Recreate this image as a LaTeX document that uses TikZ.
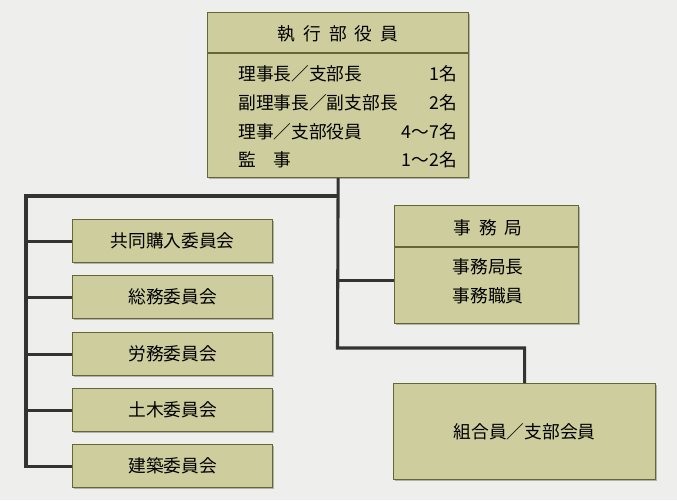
\documentclass[tikz,border=0pt]{standalone}
\usepackage{fontspec}
\setmainfont{Noto Sans CJK JP}
\usetikzlibrary{positioning,calc,shadows}
\definecolor{bggray}{RGB}{238,238,236}
\definecolor{boxfill}{RGB}{205,205,157}
\definecolor{boxline}{RGB}{102,102,51}
\definecolor{linkgray}{RGB}{51,51,51}
\newcommand{\charsep}{\hspace{0.45em}}
\tikzset{
  orgbox/.style={draw=boxline, fill=boxfill, line width=0.9pt, inner sep=0pt,
    drop shadow={shadow xshift=0.9pt, shadow yshift=-0.9pt, fill=black, opacity=0.25}},
  link/.style={draw=linkgray, line width=2.3pt},
  jtxt/.style={font=\fontsize{13.3}{15}\selectfont, text=black, inner sep=0pt}
}

\begin{document}
\begin{tikzpicture}[x=0.75pt,y=-0.75pt]
    \fill[bggray] (0,0) rectangle (677,500);
    \useasboundingbox (0,0) rectangle (677,500);

    % boxes
    \node[orgbox, anchor=north west, minimum width=195.75pt, minimum height=123.75pt] (exec) at (207,12) {};
    \node[orgbox, anchor=north west, minimum width=138pt, minimum height=88.5pt] (office) at (394,205) {};
    \node[orgbox, anchor=north west, minimum width=196.5pt, minimum height=72pt, jtxt] (union) at (393,383) {組合員／支部会員};
    \foreach \i/\name/\top in {1/共同購入委員会/219, 2/総務委員会/275, 3/労務委員会/332, 4/土木委員会/388, 5/建築委員会/444}
      \node[orgbox, anchor=north west, minimum width=150pt, minimum height=32.25pt, jtxt] (c\i) at (72,\top) {\name};

    \draw[boxline, line width=0.9pt] ($(exec.north west)+(0,41)$) -- ($(exec.north east)+(0,41)$);
    \draw[boxline, line width=0.9pt] ($(office.north west)+(0,42)$) -- ($(office.north east)+(0,42)$);

    % executive board
    \node[jtxt] (exectitle) at (338,34) {執\charsep 行\charsep 部\charsep 役\charsep 員};
    \node[jtxt, anchor=west] (role1) at (238,74) {理事長／支部長};
    \node[jtxt, anchor=west] (role2) at (238,103) {副理事長／副支部長};
    \node[jtxt, anchor=west] (role3) at (238,132) {理事／支部役員};
    \node[jtxt, anchor=west] (role4) at (238,160) {監　事};
    \node[jtxt, anchor=east] (num1) at (457,74) {1名};
    \node[jtxt, anchor=east] (num2) at (457,103) {2名};
    \node[jtxt, anchor=east] (num3) at (457,132) {4～7名};
    \node[jtxt, anchor=east] (num4) at (457,160) {1～2名};

    % secretariat
    \node[jtxt] (officetitle) at (488,228) {事\charsep 務\charsep 局};
    \node[jtxt] (officerole1) at (488,267) {事務局長};
    \node[jtxt] (officerole2) at (488,296) {事務職員};

    % connectors
    \coordinate (lefttop) at (26,196);
    \coordinate (bend) at (337.5,348);
    \coordinate (officejoin) at ($(office.west)+(0,16)$);
    \draw[link] (exec.south) -- (bend) -| (union.north);
    \draw[link] (exec.south |- lefttop) -- (lefttop) -- (lefttop |- c5.west) -- (c5.west);
    \foreach \i in {1,...,4}
      \draw[link] (lefttop |- c\i.west) -- (c\i.west);
    \draw[link] (officejoin -| exec.south) -- (officejoin);
\end{tikzpicture}
\end{document}
